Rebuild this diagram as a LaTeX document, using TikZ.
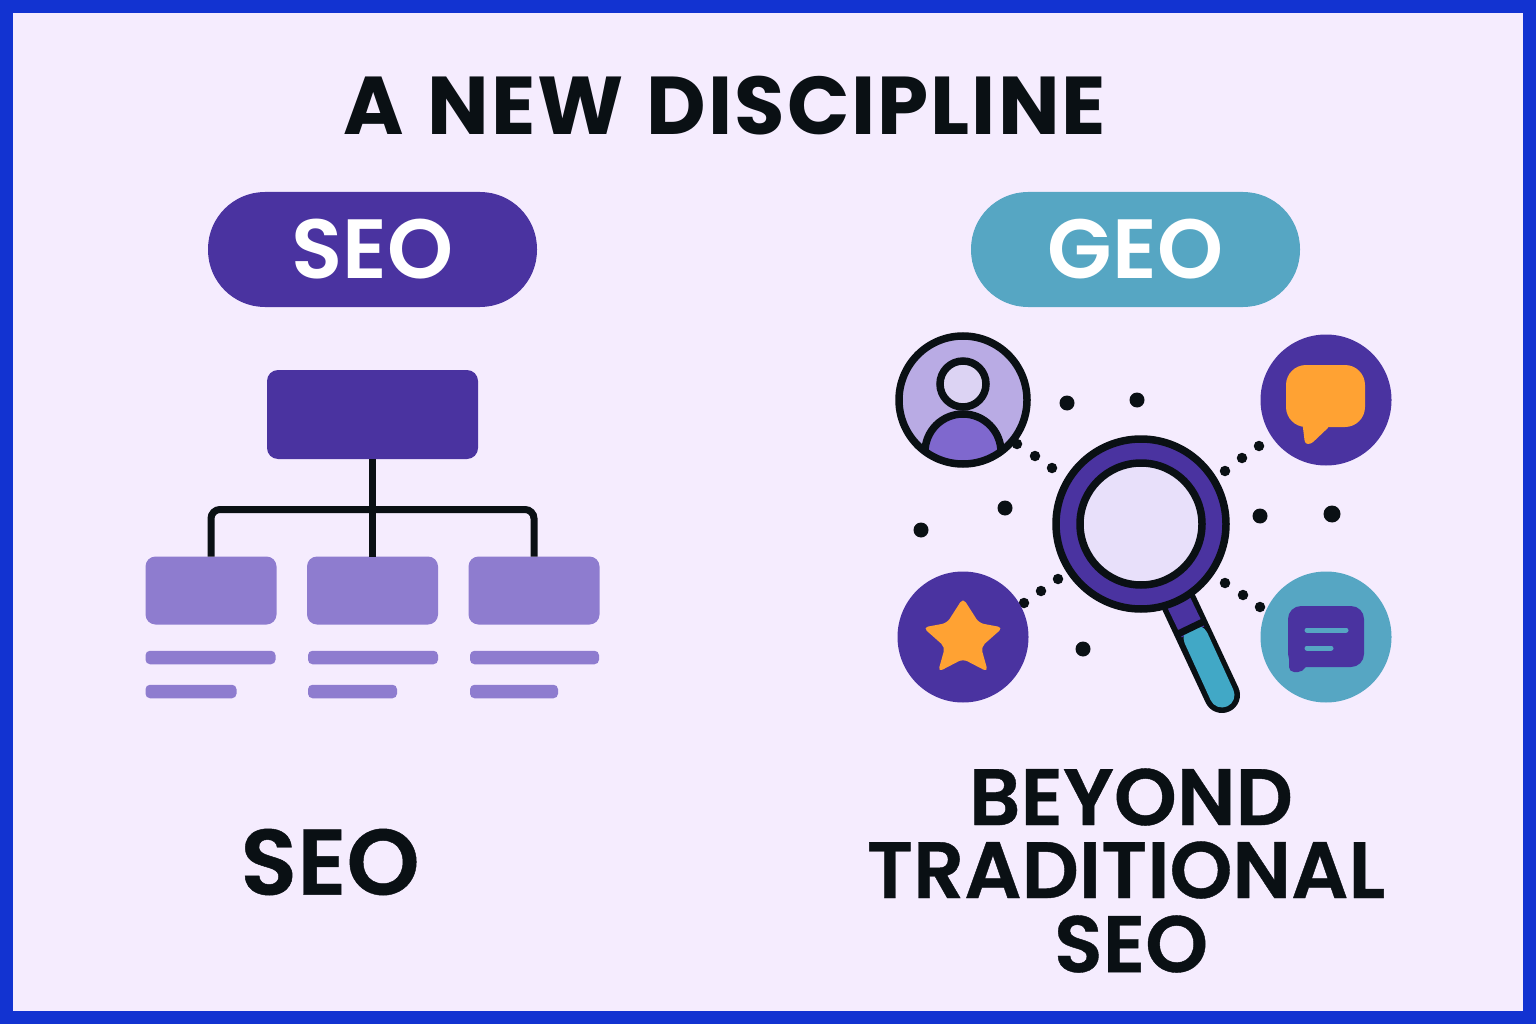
\documentclass[tikz,border=0pt]{standalone}
\usepackage{fontspec}
\setmainfont{Poppins}
\newfontfamily\headfont[FakeBold=0.5]{Poppins SemiBold}
\newfontfamily\pillfont{Poppins SemiBold}
\newfontfamily\titlefont[LetterSpace=2.4,WordSpace=1.2]{Poppins Bold}
\definecolor{frameblue}{HTML}{1233D1}
\definecolor{pagebg}{HTML}{F5ECFE}
\definecolor{deep}{HTML}{4A33A0}
\definecolor{soft}{HTML}{8E7CCF}
\definecolor{tealc}{HTML}{56A6C3}
\definecolor{handleteal}{HTML}{41A8C6}
\definecolor{ink}{HTML}{0A1014}
\definecolor{amber}{HTML}{FFA233}
\definecolor{lens}{HTML}{E8E0FA}
\definecolor{userbg}{HTML}{B9ABE4}
\definecolor{userhead}{HTML}{DCD3F3}
\definecolor{userbody}{HTML}{7F68CE}
\tikzset{
  boxbase/.style={shape=rectangle,inner sep=0pt,outer sep=0pt},
  topbox/.style={boxbase,rounded corners=11pt,fill=deep,minimum width=211pt,minimum height=89pt},
  childbox/.style={boxbase,rounded corners=10pt,fill=soft,minimum width=131pt,minimum height=68pt},
  barbox/.style={boxbase,rounded corners=4.5pt,fill=soft,minimum height=13.5pt},
  pill/.style={boxbase,rounded corners=57pt,minimum width=329pt,minimum height=115pt,text=white,font=\fontsize{84}{84}\pillfont},
  heading/.style={inner sep=0pt,outer sep=0pt,text=ink,font=\fontsize{80}{80}\headfont},
  iconcircle/.style={shape=circle,inner sep=0pt,outer sep=0pt,minimum size=131pt},
  dotbig/.style={shape=circle,fill=ink,inner sep=0pt,minimum size=15pt},
  dotsmall/.style={shape=circle,fill=ink,inner sep=0pt,minimum size=10.5pt},
  wire/.style={draw=ink,line width=7pt},
  outline/.style={draw=ink,line width=7.5pt},
}
\begin{document}
\begin{tikzpicture}[x=1pt,y=-1pt]
\useasboundingbox (0,0) rectangle (1536,1024);
\fill[frameblue] (0,0) rectangle (1536,1024);
\fill[pagebg] (13,13) rectangle (1523,1011);

\node[heading,font=\fontsize{82}{82}\titlefont] (title) at (725,106) {A NEW DISCIPLINE};

\node[pill,fill=deep] (seopill) at (372.5,249.5) {SEO};
\node[pill,fill=tealc] (geopill) at (1135.5,249.5) {GEO};

% org chart
\node[topbox] (top) at (372.5,414.5) {};
\node[childbox] (cl) at (211,590.5) {};
\node[childbox] (cm) at (372.5,590.5) {};
\node[childbox] (cr) at (534,590.5) {};
\coordinate (bus) at (372.5,509.5);
\draw[wire,rounded corners=9pt] (cl.north) |- (bus) -| (cr.north);
\draw[wire] (top.south) -- (cm.north);
\node[barbox,minimum width=130pt] (b1) at (210.5,657.5) {};
\node[barbox,minimum width=130pt] (b2) at (373,657.5) {};
\node[barbox,minimum width=129pt] (b3) at (534.5,657.5) {};
\node[barbox,minimum width=91pt] (b4) at (191,691.5) {};
\node[barbox,minimum width=89pt] (b5) at (352.5,691.5) {};
\node[barbox,minimum width=88pt] (b6) at (514,691.5) {};

% small dots
\foreach \n/\p in {a/{1067,403},b/{1137,400},c/{1005,508},d/{921,530},e/{1260,516},f/{1083,649}}
  \node[dotbig] (dot\n) at (\p) {};
\node[dotbig,minimum size=17pt] (dotg) at (1332,514) {};
\foreach \n/\p in {h/{1017,444},i/{1035,456},j/{1052,468},k/{1225,471},l/{1242,458},m/{1259,446},n/{1058,579},o/{1041,591},p/{1024,603},q/{1225,583},r/{1243,595},s/{1260,607}}
  \node[dotsmall] (dot\n) at (\p) {};

% user icon
\node[iconcircle,fill=userbg] (user) at (963,400) {};
\begin{scope}
  \clip (963,400) circle (64pt);
  \draw[outline,fill=userbody] (925,470) -- (925,452) arc[start angle=180,end angle=360,x radius=38pt,y radius=-38pt] -- (1001,470) -- cycle;
\end{scope}
\draw[outline] (user.center) circle (64pt);
\draw[outline,fill=userhead] (963,384) circle (23pt);

% chat icon
\node[iconcircle,fill=deep] (chat) at (1326,400) {};
\fill[amber,rounded corners=3pt] (1302,420) -- (1305,444) -- (1311,444) -- (1330,426) -- cycle;
\node[boxbase,fill=amber,rounded corners=20pt,minimum width=79pt,minimum height=62pt] (bubble) at (1325.5,396) {};

% star icon
\node[iconcircle,fill=deep] (staric) at (963,637) {};
\fill[amber,rounded corners=5pt] (963,598) -- (979,623) -- (1003,627.5) -- (981,647) -- (988,672) -- (963,659) -- (938,672) -- (945,647) -- (923,627.5) -- (947,623) -- cycle;

% message icon
\node[iconcircle,fill=tealc] (msg) at (1326,637) {};
\fill[deep,rounded corners=5pt] (1289,650) -- (1289,672) -- (1303,672) -- (1312,655) -- cycle;
\node[boxbase,fill=deep,rounded corners=13pt,minimum width=76pt,minimum height=61pt] (msgbox) at (1326,636.5) {};
\draw[tealc,line width=5pt,line cap=round] (1307,630) -- (1346,630);
\draw[tealc,line width=5pt,line cap=round] (1307,648) -- (1331,648);

% magnifier
\draw[ink,line width=36pt,line cap=round] (1179,603) -- (1222,695);
\draw[deep,line width=25pt] (1179,603) -- (1193,632);
\draw[handleteal,line width=25pt,line cap=round] (1196,638) -- (1222,695);
\draw[ink,line width=7pt] (1179,633.5) -- (1206,620.5);
\draw[outline,fill=deep] (1141,524) circle (85pt);
\draw[outline,fill=lens] (1141,524) circle (61pt);

% texts
\node[heading,font=\fontsize{93}{93}\headfont] (t1) at (330,862) {SEO};
\node[heading] (t2) at (1131,797) {BEYOND};
\node[heading] (t3) at (1126,870) {TRADITIONAL};
\node[heading] (t4) at (1131,944) {SEO};
\end{tikzpicture}
\end{document}
